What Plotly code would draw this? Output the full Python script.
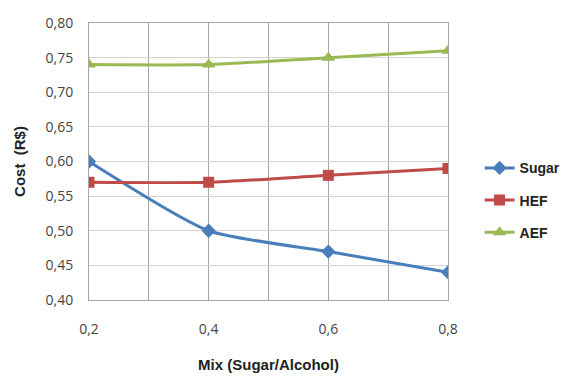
import plotly.graph_objects as go

mix = [0.2, 0.4, 0.6, 0.8]
sugar = [0.60, 0.50, 0.47, 0.44]
hef = [0.57, 0.57, 0.58, 0.59]
aef = [0.74, 0.74, 0.75, 0.76]

series = [
    ("Sugar", sugar, "#4A7EBB", "diamond", 11),
    ("HEF", hef, "#BE4B48", "square", 11),
    ("AEF", aef, "#98B954", "triangle-up", 12),
]

fig = go.Figure()
for i, (name, vals, color, symbol, size) in enumerate(series):
    fig.add_trace(go.Scatter(
        x=mix, y=vals, name=name, mode="lines+markers",
        line=dict(color=color, width=3, shape="spline", smoothing=0.6),
        marker=dict(symbol=symbol, size=size, color=color),
        legendgroup=f"g{i}",
    ))

bold = "Liberation Sans, Arial, sans-serif"
tickf = "Open Sans, sans-serif"
fig.update_layout(
    width=567, height=378,
    margin=dict(l=89, r=119, t=23, b=78, autoexpand=False),
    paper_bgcolor="white", plot_bgcolor="white",
    separators=",.",
    showlegend=True,
    legend=dict(
        x=1.088, y=0.36, xanchor="left", yanchor="middle",
        font=dict(family=bold, size=14, color="#222222", weight="bold"),
        tracegroupgap=11, itemwidth=30,
    ),
    font=dict(family=tickf, size=14, color="#444444"),
)
fig.update_xaxes(
    range=[0.2, 0.8], tickvals=[0.2, 0.4, 0.6, 0.8], tickformat=".1f",
    showgrid=True, gridcolor="#A6A6A6", gridwidth=1,
    minor=dict(dtick=0.1, showgrid=True, gridcolor="#A6A6A6", gridwidth=1),
    showline=True, linecolor="#A6A6A6", mirror=True,
    ticks="", ticklabelstandoff=16,
    tickfont=dict(family=tickf, size=14, color="#444444"),
    title=dict(text="Mix (Sugar/Alcohol)", standoff=22,
               font=dict(family=bold, size=15, color="#222222", weight="bold")),
    zeroline=False,
)
fig.update_yaxes(
    range=[0.4, 0.8], dtick=0.05, tickformat=".2f",
    showgrid=True, gridcolor="#D3D3D3", gridwidth=1,
    showline=True, linecolor="#A6A6A6", mirror=True,
    ticks="", ticklabelstandoff=12,
    tickfont=dict(family=tickf, size=14, color="#444444"),
    title=dict(text="Cost  (R$)", standoff=16,
               font=dict(family=bold, size=15, color="#222222", weight="bold")),
    zeroline=False,
)

fig.write_html("out.html")
